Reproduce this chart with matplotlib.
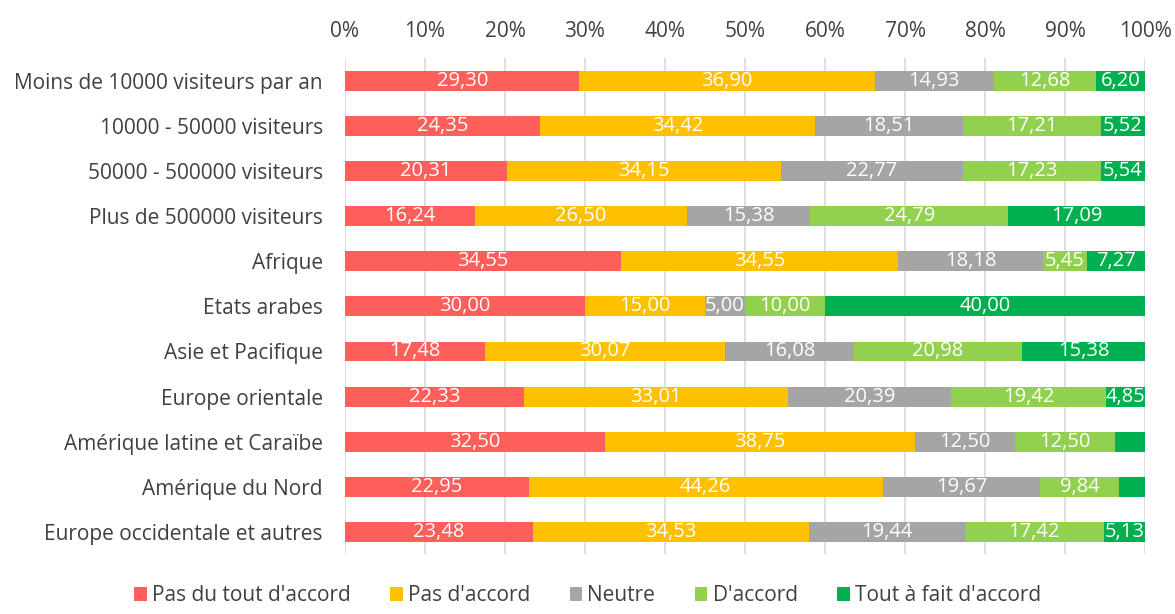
import matplotlib
matplotlib.use("Agg")
import matplotlib.pyplot as plt
import numpy as np

plt.rcParams['font.family'] = ['Open Sans', 'DejaVu Sans']

categories = [
    "Moins de 10000 visiteurs par an",
    "10000 - 50000 visiteurs",
    "50000 - 500000 visiteurs",
    "Plus de 500000 visiteurs",
    "Afrique",
    "Etats arabes",
    "Asie et Pacifique",
    "Europe orientale",
    "Amérique latine et Caraïbe",
    "Amérique du Nord",
    "Europe occidentale et autres",
]

series_names = ["Pas du tout d'accord", "Pas d'accord", "Neutre", "D'accord", "Tout à fait d'accord"]

pas_du_tout = [29.30, 24.35, 20.31, 16.24, 34.55, 30.00, 17.48, 22.33, 32.50, 22.95, 23.48]
pas_accord = [36.90, 34.42, 34.15, 26.50, 34.55, 15.00, 30.07, 33.01, 38.75, 44.26, 34.53]
neutre = [14.93, 18.51, 22.77, 15.38, 18.18, 5.00, 16.08, 20.39, 12.50, 19.67, 19.44]
accord = [12.68, 17.21, 17.23, 24.79, 5.45, 10.00, 20.98, 19.42, 12.50, 9.84, 17.42]
tout_a_fait = [6.20, 5.52, 5.54, 17.09, 7.27, 40.00, 15.38, 4.85, 3.75, 3.28, 5.13]
# the two smallest end segments carry no label
tout_a_fait_labelled = [True, True, True, True, True, True, True, True, False, False, True]

colors = ["#FF5F5A", "#FFC000", "#A5A5A5", "#92D050", "#00B050"]

series = [pas_du_tout, pas_accord, neutre, accord, tout_a_fait]
show = [[True] * len(categories)] * 4 + [tout_a_fait_labelled]

fig = plt.figure(figsize=(11.75, 6.14), dpi=100)
ax = fig.add_axes([0.2936, 0.097, 0.6809, 0.808])

y = np.arange(len(categories))
left = np.zeros(len(categories))
for vals, name, col, lab in zip(series, series_names, colors, show):
    vals = np.array(vals)
    ax.barh(y, vals, left=left, height=0.44, color=col, label=name, zorder=3)
    for yi, l, v, s in zip(y, left, vals, lab):
        if s:
            ax.text(l + v / 2, yi, f"{v:.2f}".replace(".", ","), ha="center", va="center",
                    color="white", fontsize=14.5, zorder=4)
    left += vals

ax.set_xlim(0, 100)
ax.set_ylim(len(categories) - 0.5, -0.5)
ax.set_yticks(y)
ax.set_yticklabels(categories, fontsize=15, color="#404040")
ax.set_xticks(np.arange(0, 101, 10))
ax.set_xticklabels([f"{t}%" for t in range(0, 101, 10)], fontsize=15, color="#404040")
ax.xaxis.tick_top()
ax.tick_params(length=0)
ax.tick_params(axis="x", pad=12)
ax.tick_params(axis="y", pad=16)
ax.grid(axis="x", color="#D9D9D9", linewidth=1.2, zorder=0)
for sp in ax.spines.values():
    sp.set_visible(False)

leg = fig.legend(loc="lower center", bbox_to_anchor=(0.5, -0.018), ncol=5, frameon=False,
                 fontsize=15, handlelength=0.6, handleheight=0.7, handletextpad=0.25,
                 columnspacing=1.9)
for t in leg.get_texts():
    t.set_color("#404040")

fig.savefig("out.png", dpi=100)
